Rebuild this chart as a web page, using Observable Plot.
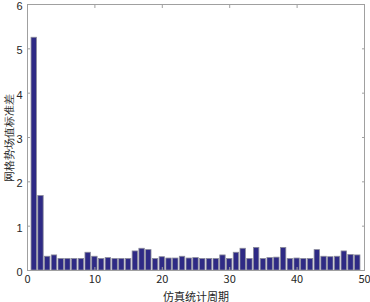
<!DOCTYPE html>
<html>
<head>
<meta charset="utf-8">
<script src="https://cdn.jsdelivr.net/npm/d3@7"></script>
<script src="https://cdn.jsdelivr.net/npm/@observablehq/plot@0.6"></script>
<style>
  html, body { margin: 0; padding: 0; background: #fff; }
</style>
</head>
<body>
<div id="chart"></div>
<script>
const periods = [1,2,3,4,5,6,7,8,9,10,11,12,13,14,15,16,17,18,19,20,21,22,23,24,25,26,27,28,29,30,31,32,33,34,35,36,37,38,39,40,41,42,43,44,45,46,47,48,49];
const stdValues = [5.25,1.68,0.31,0.34,0.26,0.26,0.26,0.26,0.40,0.31,0.26,0.28,0.26,0.26,0.26,0.43,0.49,0.46,0.26,0.30,0.27,0.27,0.31,0.27,0.28,0.26,0.26,0.26,0.34,0.26,0.40,0.49,0.26,0.51,0.26,0.28,0.29,0.51,0.26,0.27,0.26,0.26,0.46,0.31,0.30,0.31,0.43,0.35,0.34];
const xTicks = [0,10,20,30,40,50];
const yTicks = [0,1,2,3,4,5,6];
const xLabel = "仿真统计周期";
const yLabel = "网格势场值标准差";

const data = periods.map((p, i) => ({period: p, value: stdValues[i]}));
const halfWidth = 0.4;

const chart = Plot.plot({
  width: 370,
  height: 302,
  marginLeft: 27,
  marginRight: 6,
  marginTop: 4,
  marginBottom: 32,
  style: {fontFamily: "'Liberation Sans', Arial, sans-serif", fontSize: "11px", color: "#262626", background: "#fff"},
  x: {domain: [0, 50]},
  y: {domain: [0, 6]},
  marks: [
    Plot.rectY(data, {x1: d => d.period - halfWidth, x2: d => d.period + halfWidth, y: "value", fill: "#2e2a85", stroke: "#8a8a9a", strokeWidth: 0.8}),
    Plot.frame({stroke: "#a0a0a0"}),
    Plot.axisX(xTicks, {anchor: "bottom", tickSize: -3, tickPadding: 8, stroke: "#a0a0a0", label: xLabel, labelAnchor: "center", labelArrow: "none", labelOffset: 30, fontFamily: "'Noto Sans CJK SC', sans-serif"}),
    Plot.axisX(xTicks, {anchor: "top", tickSize: -3, tickFormat: () => "", stroke: "#a0a0a0", label: null}),
    Plot.axisY(yTicks, {anchor: "left", tickSize: -3, tickFormat: () => "", stroke: "#a0a0a0", label: yLabel, labelAnchor: "center", labelArrow: "none", labelOffset: 22}),
    Plot.axisY(yTicks, {anchor: "left", tickSize: 0, tickPadding: 5, dy: 2, label: null}),
    Plot.axisY(yTicks, {anchor: "right", tickSize: -3, tickFormat: () => "", stroke: "#a0a0a0", label: null})
  ]
});
document.getElementById("chart").appendChild(chart);
</script>
</body>
</html>
